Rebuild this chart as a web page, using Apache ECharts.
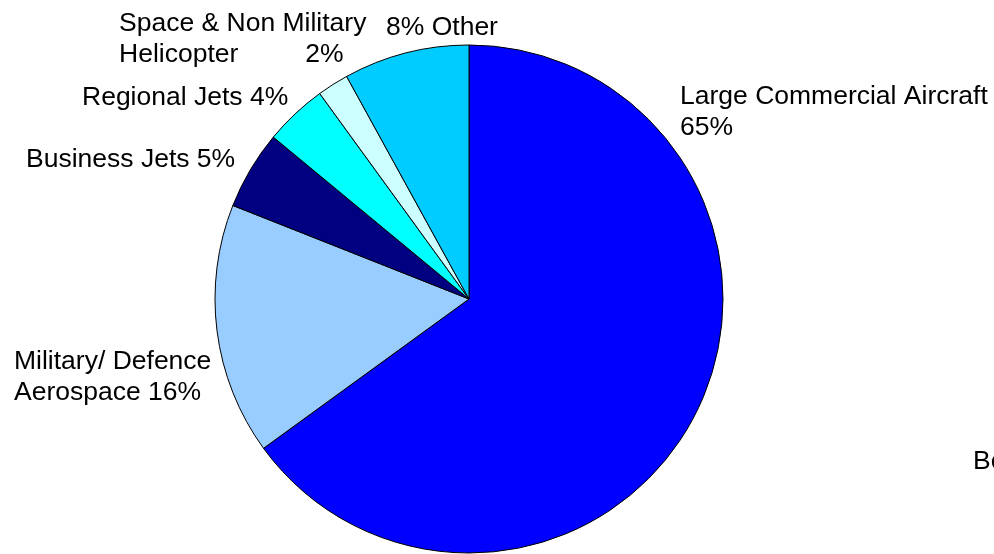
<!DOCTYPE html>
<html>
<head>
<meta charset="utf-8">
<script src="https://cdn.jsdelivr.net/npm/echarts@6/dist/echarts.min.js"></script>
<style>
  html, body { margin: 0; padding: 0; background: #ffffff; }
  #chart { width: 994px; height: 554px; }
</style>
</head>
<body>
<div id="chart"></div>
<script>
// Aerospace market segments, clockwise from 12 o'clock
const categories = [
  'Large Commercial Aircraft',
  'Military/ Defence Aerospace',
  'Business Jets',
  'Regional Jets',
  'Space & Non Military Helicopter',
  'Other'
];
const shares = [65, 16, 5, 4, 2, 8];
const sliceColors = ['#0000FF', '#99CCFF', '#000080', '#00FFFF', '#CCFFFF', '#00CCFF'];

// How each segment's label is worded and broken across lines
function labelText(i, name, v) {
  switch (i) {
    case 0: return name + '\n' + v + '%';
    case 1: return 'Military/ Defence\nAerospace ' + v + '%';
    case 4: return '{t|Space & Non Military}\n{t|Helicopter}{p|' + v + '%}';
    case 5: return v + '% ' + name;
    default: return name + ' ' + v + '%';
  }
}

// Top-left anchor of each label box
const labelAnchors = [
  [680, 81],
  [14, 346],
  [26, 144],
  [82, 82],
  [119, 8],
  [386, 12]
];

const font = "'Liberation Sans', Arial, sans-serif";
const chart = echarts.init(document.getElementById('chart'), null, { renderer: 'canvas' });

chart.setOption({
  animation: false,
  backgroundColor: '#ffffff',
  series: [{
    type: 'pie',
    center: [469, 299],
    radius: 254,
    startAngle: 90,
    clockwise: true,
    avoidLabelOverlap: false,
    silent: true,
    emphasis: { disabled: true },
    itemStyle: { borderColor: '#000000', borderWidth: 1 },
    labelLine: { show: false },
    label: {
      show: true,
      position: 'outside',
      color: '#000000',
      fontFamily: font,
      fontSize: 26.5,
      lineHeight: 31,
      align: 'left',
      formatter: p => labelText(p.dataIndex, p.name, p.value),
      rich: {
        t: { fontFamily: font, fontSize: 26.5, lineHeight: 31, color: '#000000' },
        p: { fontFamily: font, fontSize: 26.5, lineHeight: 31, color: '#000000', padding: [0, 0, 0, 67] }
      }
    },
    labelLayout: p => ({
      x: labelAnchors[p.dataIndex][0],
      y: labelAnchors[p.dataIndex][1],
      align: 'left',
      verticalAlign: 'top'
    }),
    data: categories.map((name, i) => ({
      name: name,
      value: shares[i],
      itemStyle: { color: sliceColors[i] }
    }))
  }],
  graphic: [{
    type: 'text',
    x: 973,
    y: 448,
    silent: true,
    style: {
      text: 'Bo',
      fill: '#000000',
      font: "26.5px 'Liberation Sans', Arial, sans-serif"
    }
  }]
});
</script>
</body>
</html>
